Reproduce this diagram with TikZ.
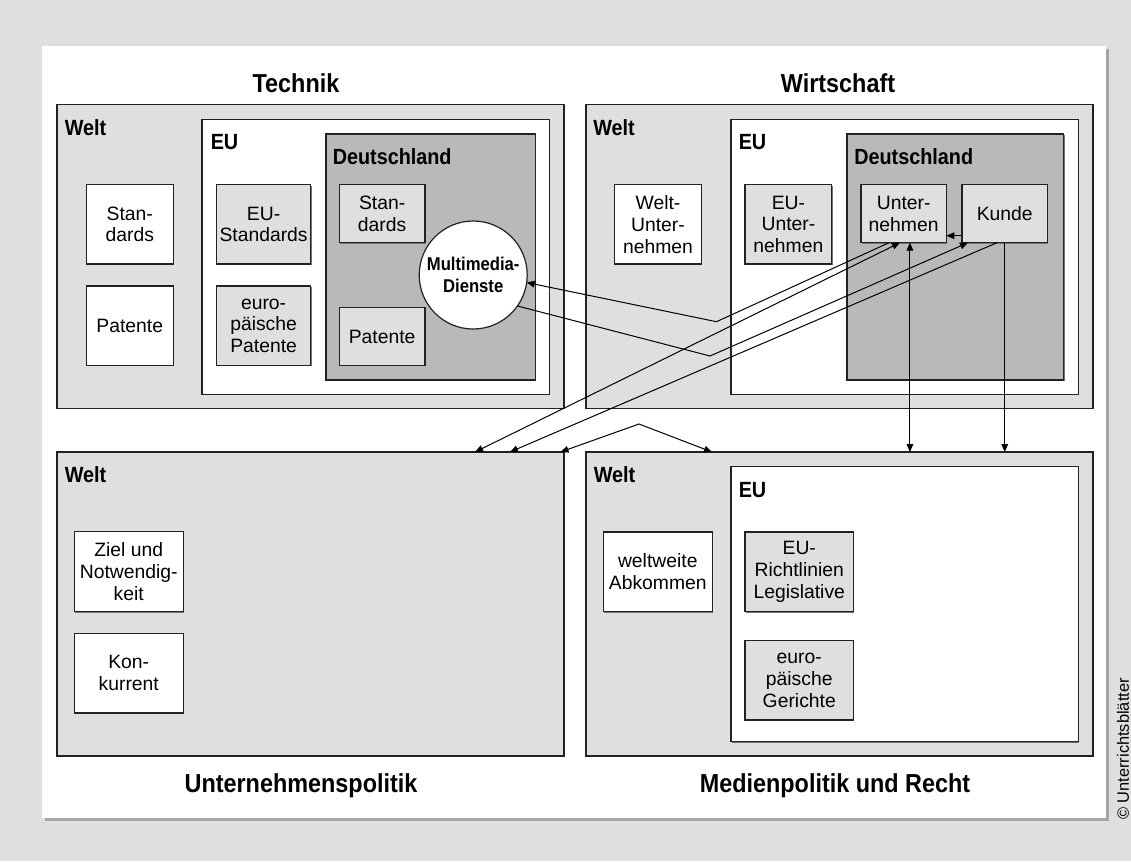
\documentclass[tikz,border=0pt]{standalone}
\usepackage{fontspec}
\setmainfont{Liberation Sans}[BoldFeatures={FakeStretch=0.9}]
\usetikzlibrary{arrows.meta,shadows,calc}
\definecolor{lg}{HTML}{DFDFDF}
\definecolor{dg}{HTML}{B9B9B9}
\definecolor{sh}{HTML}{A6A6A6}
\definecolor{ln}{HTML}{222222}
\begin{document}
\begin{tikzpicture}[x=0.75pt,y=-0.75pt,
  >={Triangle[length=6pt,width=5pt]},
  bx/.style={draw=ln, line width=0.9pt, inner sep=0pt, outer sep=0pt, rectangle,
    drop shadow={shadow xshift=0.7pt, shadow yshift=-0.7pt, fill=black!55, opacity=1}},
  welt/.style={bx, fill=lg, minimum width=380.25pt, minimum height=228pt, anchor=north west},
  eu/.style={bx, fill=white, minimum width=260.6pt, minimum height=206.2pt, anchor=north west},
  de/.style={bx, fill=dg, minimum height=184.5pt, anchor=north west},
  item/.style={bx, align=center, anchor=north west, font=\fontsize{14.5}{16.3}\selectfont},
  witem/.style={item, fill=white},
  gitem/.style={item, fill=lg},
  lab/.style={anchor=base west, inner sep=0pt, font=\fontsize{16.5}{18}\selectfont\bfseries},
  ttl/.style={anchor=base, inner sep=0pt, font=\fontsize{19.5}{22}\selectfont\bfseries},
  con/.style={draw=black, line width=0.75pt}
]
\useasboundingbox (0,0) rectangle (1131,861);
% page
\fill[lg] (0,0) rectangle (1131,861);
\fill[sh] (45,49) rectangle (1109,821);
\fill[white] (42,46) rectangle (1106,818);

% big boxes
\node[welt] (tw) at (57,104.5) {};
\node[welt] (ww) at (586,104.5) {};
\node[welt] (uw) at (57,452) {};
\node[welt] (mw) at (586,452) {};

\node[eu] (te) at (202,119.3) {};
\node[eu] (we) at (731,119.3) {};
\node[eu] (me) at (731,466.7) {};

\node[de, minimum width=157pt] (td) at (326,134) {};
\node[de, minimum width=162.6pt] (wd) at (847,134) {};

% labels
\node[lab] (twl) at (64.5,135) {Welt};
\node[lab] (tel) at (210.5,149) {EU};
\node[lab] (tdl) at (332.5,164) {Deutschland};
\node[lab] (wwl) at (593,135) {Welt};
\node[lab] (wel) at (738.5,149) {EU};
\node[lab] (wdl) at (854,164) {Deutschland};
\node[lab] (uwl) at (64.5,482) {Welt};
\node[lab] (mwl) at (593.5,482) {Welt};
\node[lab] (mel) at (738.5,497.3) {EU};

% titles
\node[ttl] (t1) at (296,92.7) {Technik};
\node[ttl] (t2) at (838,92.7) {Wirtschaft};
\node[ttl] (t3) at (301,792.5) {Unternehmenspolitik};
\node[ttl] (t4) at (835,792.5) {Medienpolitik und Recht};

% Technik items
\node[witem, minimum width=65.25pt, minimum height=59.5pt] (ts) at (86.3,184.7) {Stan-\\dards};
\node[witem, minimum width=65.25pt, minimum height=59.5pt] (tp) at (86.3,286) {Patente};
\node[gitem, minimum width=70.8pt, minimum height=59.5pt] (tes) at (216.4,184.7) {EU-\\Standards};
\node[gitem, minimum width=70.8pt, minimum height=59.5pt] (tep) at (216.4,286) {euro-\\päische\\Patente};
\node[gitem, minimum width=64.4pt, minimum height=43.5pt] (tds) at (339.2,184.7) {Stan-\\dards};
\node[gitem, minimum width=64.4pt, minimum height=43.2pt] (tdp) at (339.2,307.7) {Patente};
\node[circle, draw=ln, line width=0.9pt, fill=white, minimum size=81pt, inner sep=0pt, outer sep=0pt,
  align=center, font=\fontsize{13.9}{16.3}\selectfont\bfseries] (mm) at (473.2,275) {Multimedia-\\Dienste};

% Wirtschaft items
\node[witem, minimum width=65.1pt, minimum height=59.5pt] (wwu) at (614.6,184.7) {Welt-\\Unter-\\nehmen};
\node[gitem, minimum width=65.1pt, minimum height=59.5pt] (weu) at (745,184.7) {EU-\\Unter-\\nehmen};
\node[gitem, minimum width=64pt, minimum height=43.5pt] (unt) at (861,184.7) {Unter-\\nehmen};
\node[gitem, minimum width=64.1pt, minimum height=43.5pt] (kun) at (962,184.7) {Kunde};

% Unternehmenspolitik items
\node[witem, minimum width=81.7pt, minimum height=60pt] (uz) at (74.3,531.7) {Ziel und\\Notwendig-\\keit};
\node[witem, minimum width=81.7pt, minimum height=59.8pt] (uk) at (74.3,633.3) {Kon-\\kurrent};

% Medien items
\node[witem, minimum width=81.7pt, minimum height=59.8pt] (mwa) at (603.3,532) {weltweite\\Abkommen};
\node[gitem, minimum width=81.4pt, minimum height=59.8pt] (mer) at (745,532) {EU-\\Richtlinien\\Legislative};
\node[gitem, minimum width=81.4pt, minimum height=59.8pt] (meg) at (745,640.3) {euro-\\päische\\Gerichte};

% copyright
\node[rotate=90, inner sep=0pt, font=\fontsize{12.3}{14}\selectfont] (cr) at (1123,749) {© Unterrichtsblätter};

% connectors
\coordinate (b1) at (716.5,321.7);
\coordinate (b2) at (710,356);
\coordinate (ap) at (639,424);
\coordinate (u6) at ([xshift=4.7pt]unt.south);
\draw[con,->] ([xshift=-11pt]unt.south) -- (b1) -- (mm.-8);
\draw[con,->] (mm.-35) -- (b2) -- ([xshift=-27.6pt]kun.south);
\draw[con,<->] ([xshift=-2.8pt]unt.south) -- ([xshift=123.4pt]uw.north);
\draw[con,->] ([xshift=-5.8pt]kun.south) -- ([xshift=149.6pt]uw.north);
\draw[con,<->] ([xshift=187.5pt]uw.north) -- (ap) -- ([xshift=-95.6pt]mw.north);
\draw[con,<->] (u6) -- (u6 |- mw.north);
\draw[con,->] (kun.south) -- (kun.south |- mw.north);
\draw[con,->] ([yshift=-16.5pt]kun.west) -- ([yshift=-16.5pt]unt.east);
\end{tikzpicture}
\end{document}
